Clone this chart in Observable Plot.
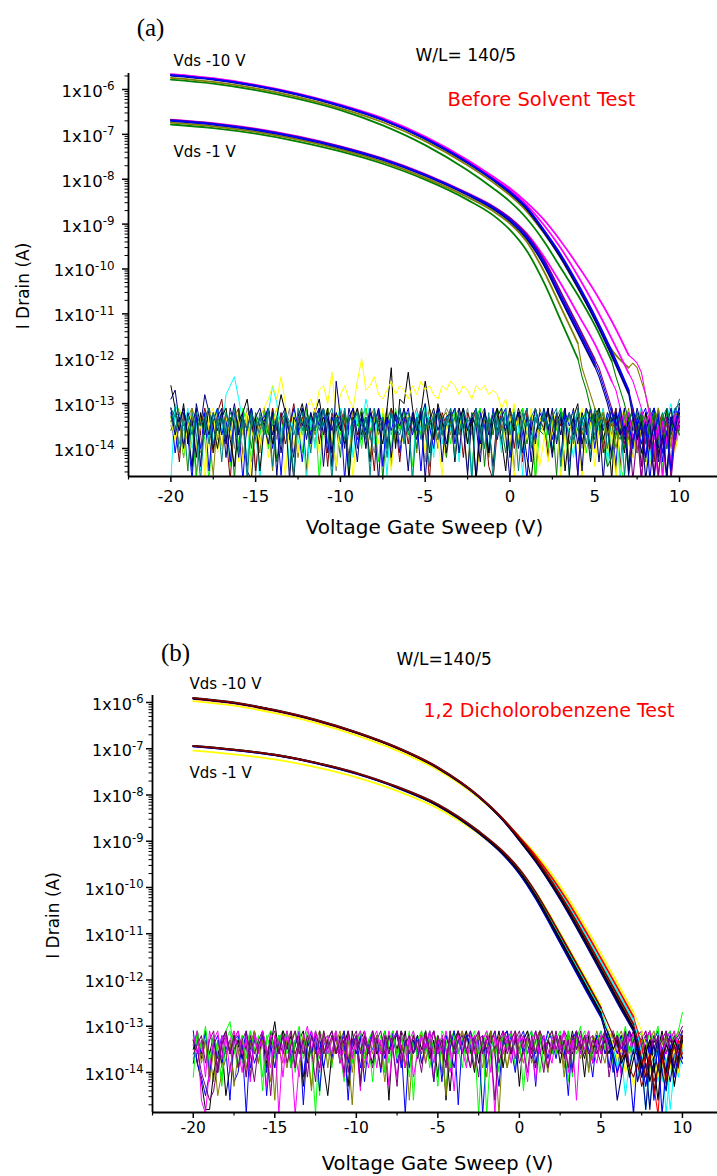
<!DOCTYPE html>
<html><head><meta charset="utf-8">
<script src="https://cdn.jsdelivr.net/npm/d3@7"></script>
<script src="https://cdn.jsdelivr.net/npm/@observablehq/plot@0.6"></script>
<style>
body{margin:0;background:#fff;overflow:hidden;}
#chart{width:717px;height:1176px;}
#chart svg{display:block;}
</style></head><body><div id="chart"></div>
<script>
// ---------- shared axis data ----------
const xMajorTicks = [-20,-15,-10,-5,0,5,10];
const xMinorTicks = [-22.5,-17.5,-12.5,-7.5,-2.5,2.5,7.5];
const yTickExponents = [-14,-13,-12,-11,-10,-9,-8,-7,-6];
const minorMultipliers = [2,3,4,5,6,7,8,9];
// gate voltage grid for the smooth part of the transfer curves (V)
const vGrid = [-20,-17.5,-15,-12.5,-10,-7.5,-5,-2.5,-1,0,1,2,3,4,5,6,7,8];
// noise / tail sampling: start -20 V, step 0.25 V ; values in tenths of a decade (132 -> 1e-13.2 A)
const noiseStartV = -20, noiseStepV = 0.25;

// ---------- panel (a): log10(I) on vGrid ----------
const a10_magenta1 = [-5.66,-5.75,-5.895,-6.09,-6.34,-6.64,-7.05,-7.57,-7.94,-8.2,-8.52,-8.9,-9.38,-9.92,-10.5,-11.16,-11.92];
const a10_magenta2 = [-5.67,-5.76,-5.905,-6.1,-6.35,-6.66,-7.07,-7.6,-7.97,-8.24,-8.58,-9.02,-9.54,-10.15,-10.82,-11.55,-12.32];
const a10_blue = [-5.68,-5.77,-5.915,-6.11,-6.36,-6.67,-7.09,-7.62,-8.0,-8.28,-8.63,-9.13,-9.68,-10.33,-11.04,-11.83,-12.7];
const a10_navy = [-5.69,-5.78,-5.925,-6.12,-6.37,-6.68,-7.1,-7.64,-8.02,-8.31,-8.67,-9.18,-9.75,-10.41,-11.13,-11.93,-12.78];
const a10_purple = [-5.68,-5.77,-5.915,-6.11,-6.36,-6.67,-7.09,-7.62,-8.0,-8.28,-8.64,-9.15,-9.71,-10.37,-11.08,-11.87,-12.72];
const a10_olive = [-5.74,-5.83,-5.975,-6.17,-6.42,-6.73,-7.15,-7.69,-8.07,-8.36,-8.72,-9.2,-9.76,-10.42,-11.1,-11.8,-12.2];
const a10_green = [-5.78,-5.87,-6.015,-6.21,-6.46,-6.8,-7.24,-7.8,-8.2,-8.5,-8.88,-9.38,-9.98,-10.58,-11.25,-12.05];
const a1_magenta = [-6.67,-6.75,-6.875,-7.047,-7.266,-7.537,-7.885,-8.31,-8.6,-8.86,-9.21,-9.72,-10.33,-11.0,-11.67,-12.5];
const a1_blue = [-6.69,-6.77,-6.894,-7.067,-7.286,-7.557,-7.905,-8.33,-8.63,-8.9,-9.28,-9.85,-10.6,-11.34,-12.09];
const a1_navy = [-6.7,-6.78,-6.905,-7.08,-7.3,-7.57,-7.92,-8.35,-8.66,-8.94,-9.33,-9.91,-10.67,-11.42,-12.17];
const a1_purple = [-6.68,-6.76,-6.885,-7.057,-7.276,-7.547,-7.895,-8.32,-8.61,-8.87,-9.24,-9.79,-10.52,-11.26,-12.01];
const a1_olive = [-6.74,-6.82,-6.945,-7.12,-7.34,-7.615,-7.97,-8.4,-8.71,-8.99,-9.4,-10.05,-10.85,-11.65];
const a1_green = [-6.78,-6.86,-6.985,-7.16,-7.38,-7.655,-8.01,-8.46,-8.8,-9.13,-9.6,-10.3,-11.15,-12.0];
// tails (continue after last grid point, 0.25 V steps, tenths of decade)
const a10_magenta1_tail = [120,121,123,128,133,138,135,147,137,146,136,133];
const a10_magenta2_tail = [125,128,131,135,132,139,147,134,138,143,132,136];
const a10_blue_tail = [131,135,139,134,147,137,133,141,136,145,134,131];
const a10_navy_tail = [133,138,134,147,139,135,142,137,146,133,136,130];
const a10_purple_tail = [132,136,147,135,140,134,146,138,133,147,137,134];
const a10_olive_tail = [121,122,125,128,132,135,131,138,134,140,133,131];
const a10_green_tail = [124,127,130,134,131,137,133,139,135,132,138,134,140,136,133,137];
const a1_magenta_tail = [127,131,135,132,138,134,147,136,133,140,135,146,137,134,139,133];
const a1_blue_tail = [123,126,129,132,135,131,137,134,140,133,136,142,135,131,138,134,147,133,136,134];
const a1_navy_tail = [124,127,130,134,132,137,135,146,138,134,141,136,133,147,137,135,140,134,138,132];
const a1_purple_tail = [122,125,128,131,136,133,139,135,147,137,133,142,138,146,135,139,134,137,133,135];
const a1_olive_tail = [122,125,128,131,134,132,137,134,140,135,132,138,134,141,136,133,139,135,142,137,134,138,135,132];
const a1_green_tail = [124,127,131,135,133,139,144,142,137,133,140,136,134,138,132,137,135,141,136,133,139,134,137,135];

// panel (a) noise floor sweeps (-20..10 V)
const nA_yellow1 = [134,138,133,141,135,132,139,134,145,133,131,
 136,140,133,137,131,134,143,132,136,139,133,
 131,129,126,129,124,130,137,132,141,134,131,
 129,132,127,126,130,123,133,128,126,129,131,
 125,120,127,126,124,128,129,127,125,128,126,
 127,129,126,128,125,127,126,128,129,126,127,
 125,126,128,126,127,129,126,127,126,128,127,
 128,131,129,134,130,138,132,136,131,142,133,
 137,143,134,132,147,136,133,140,135,131,139,
 134,144,136,132,141,135,147,134,131,139,142,
 133,137,145,135,132,140,134,146,136,133,131];
const nA_yellow2 = [133,139,131,136,145,134,140,133,147,137,132,
 141,134,131,138,133,143,135,132,147,134,139,
 133,142,135,131,137,146,134,140,132,135,147,
 138,133,141,134,131,137,144,133,139,135,147,
 132,137,134,142,133,139,131,136,145,134,140,
 137,132,147,135,133,141,134,131,138,146,135,
 133,142,135,132,137,134,147,139,133,136,143,
 134,131,139,135,147,133,141,137,132,136,144,
 138,133,137,134,145,140,135,131,137,147,134,
 132,141,135,133,143,137,134,147,133,139,135,
 134,139,133,144,135,147,132,137,134,141,133];
const nA_black = [126,131,136,130,139,133,142,132,137,131,135,
 140,133,131,138,144,134,132,129,136,133,145,
 135,131,139,133,128,132,137,147,133,130,135,
 139,132,129,135,131,141,133,136,132,147,134,
 131,137,133,143,132,135,139,131,122,140,129,
 130,123,131,136,132,125,131,138,130,134,141,
 132,143,134,131,139,133,147,136,132,141,134,
 131,138,145,133,136,131,135,142,147,137,133,
 136,131,141,134,132,145,136,133,130,139,134,
 143,133,131,138,134,147,132,136,141,133,138,
 134,144,132,137,133,141,136,131,145,134,133];
const nA_cyan = [147,130,133,136,131,140,134,145,132,138,133,
 131,137,128,126,124,129,134,143,131,136,147,
 135,132,126,130,137,133,144,131,139,134,147,
 133,140,131,136,132,145,134,131,138,133,142,
 132,136,129,133,139,131,135,146,132,137,131,
 138,133,147,132,136,130,134,142,131,139,133,
 136,131,143,133,135,147,131,137,132,140,134,
 133,141,132,136,131,135,146,133,139,132,136,
 131,135,140,133,145,132,137,142,131,135,132,
 139,133,136,131,144,134,132,147,136,133,140,
 133,131,137,143,132,139,135,133,130,136,132];
const nA_navy = [129,127,134,131,137,144,130,135,128,132,140,
 133,131,142,135,130,137,132,145,147,133,131,
 135,139,132,146,133,131,137,142,132,135,130,
 139,133,131,137,132,144,125,133,140,131,135,
 143,132,136,131,135,147,133,139,132,137,131,
 135,145,132,136,133,130,141,134,131,143,133,
 132,137,131,135,146,133,131,139,132,135,144,
 133,131,137,147,132,140,134,131,143,133,136,
 131,135,142,132,137,131,146,133,139,132,135,
 140,131,133,147,135,142,132,137,131,145,133,
 135,132,139,133,131,143,136,147,133,138,131];
const nA_wine = [131,135,143,132,138,133,146,136,131,135,141,
 132,129,137,147,133,131,142,135,132,145,136,
 133,140,131,136,132,139,135,130,137,133,146,
 135,131,139,133,144,132,136,131,135,142,133,
 138,133,131,136,145,132,135,140,131,134,143,
 133,139,132,136,131,135,147,133,138,132,135,
 131,137,133,142,132,135,131,139,133,144,147,
 136,132,135,131,140,133,143,132,137,131,135,
 133,142,136,132,135,131,139,135,146,132,137,
 131,135,132,141,133,137,131,144,133,135,140,
 132,137,133,131,143,135,132,138,133,140,135];
const nA_lime = [133,137,131,142,133,135,147,132,138,147,135,
 131,136,133,144,132,139,131,135,143,133,137,
 132,140,134,131,136,133,145,132,135,141,131,
 136,132,147,134,131,139,133,137,131,146,135,
 133,140,131,136,133,143,132,135,140,131,136,
 132,135,144,133,137,131,141,134,132,137,133,
 139,132,136,131,135,145,133,131,140,135,132,
 135,131,133,142,132,137,131,135,133,147,136,
 132,140,133,136,131,135,146,133,137,132,141,
 135,132,137,133,142,131,135,144,147,133,136,
 133,139,134,132,137,133,145,131,135,140,132];
const nA_teal = [131,133,132,135,133,137,132,135,133,139,132,
 135,133,137,132,134,140,133,136,132,135,133,
 137,132,135,133,139,132,134,137,133,132,136,
 133,136,132,135,133,131,136,132,138,133,134,
 132,135,133,138,132,134,133,140,132,135,137,
 133,132,136,133,138,132,135,133,132,137,133,
 135,133,137,132,134,133,132,138,133,135,132,
 137,133,135,132,133,139,132,135,133,131,136,
 132,135,133,138,132,135,133,132,136,133,139,
 133,137,132,135,133,132,136,138,133,132,135,
 132,136,133,138,132,135,133,131,135,132,129];
const nA_teal2 = [134,131,141,133,145,132,137,147,134,131,139,
 133,143,132,136,131,141,134,147,133,138,132,
 136,131,144,133,139,132,135,146,131,136,133,
 141,132,136,131,135,147,133,139,131,144,134,
 132,138,133,146,131,136,133,142,132,137,131,
 139,133,147,134,131,136,144,132,138,133,135,
 131,142,132,136,133,147,131,135,140,132,147,
 133,139,131,137,132,145,134,131,140,133,136,
 132,137,133,131,144,134,132,139,131,136,133,
 142,131,135,132,140,133,137,131,146,134,132,
 136,133,143,131,135,139,132,137,133,131,130];
const nA_blue = [132,141,134,131,137,147,133,140,132,145,134,
 131,137,133,143,132,135,147,133,131,139,134,
 133,131,140,134,146,132,136,131,135,143,133,
 137,132,135,131,141,133,136,132,147,134,131,
 140,133,137,132,135,131,144,133,136,132,141,
 134,131,137,133,145,132,135,140,131,137,133,
 132,139,134,131,136,133,147,132,135,141,131,
 136,133,131,142,134,132,137,147,133,139,132,
 134,131,138,133,142,132,135,131,146,133,137,
 131,140,133,136,132,135,144,131,137,133,132,
 141,133,131,137,135,132,143,133,136,131,134];
const nA_olive = [135,132,134,142,133,131,139,134,132,137,146,
 133,140,132,135,131,137,133,144,132,135,141,
 131,135,145,133,137,132,135,131,142,133,136,
 132,137,133,131,141,134,132,136,133,146,131,
 134,132,140,133,131,137,135,132,144,133,136,
 131,135,133,141,132,137,131,134,140,133,132,
 137,133,131,135,145,132,136,133,131,142,134,
 132,136,133,140,131,135,132,137,133,147,131,
 134,141,132,136,133,131,143,134,132,137,133,
 140,132,135,131,137,133,146,132,135,131,139,
 133,137,132,135,142,131,136,133,132,135,136];
const nA_green = [136,133,131,139,134,145,132,137,133,131,141,
 134,132,138,133,147,131,136,134,140,132,135,
 133,137,131,143,134,132,138,133,136,131,145,
 132,136,134,131,139,133,135,142,131,137,133,
 135,131,138,133,136,132,147,134,131,139,133,
 132,137,133,140,131,135,133,138,131,136,142,
 134,131,136,133,139,132,135,131,144,133,137,
 131,135,141,132,136,133,131,139,134,132,136,
 137,132,134,146,131,136,133,138,132,135,131,
 133,138,131,135,133,141,132,136,133,144,134,
 132,135,133,139,131,134,137,132,135,133,132];
const nA_gray = [133,135,139,132,136,131,134,141,133,136,132,
 138,131,135,133,140,132,137,131,134,146,133,
 131,136,133,138,132,135,131,141,133,137,132,
 134,139,132,136,131,135,145,133,132,136,134,
 131,135,133,137,141,132,135,131,137,133,139,
 136,132,134,131,136,143,133,137,132,134,131,
 133,138,132,135,131,137,133,141,132,135,133,
 131,134,137,133,145,132,135,131,138,133,136,
 135,132,136,133,131,137,132,135,133,140,132,
 132,136,133,139,132,134,131,136,133,135,142,
 134,131,136,133,137,132,135,133,139,132,134];
const nA_navy2 = [131,137,133,140,132,135,131,144,133,137,132,
 136,132,139,131,135,142,133,136,131,137,133,
 134,131,137,133,141,132,147,133,135,131,138,
 132,136,131,144,133,136,132,135,139,133,131,
 137,133,140,132,135,131,136,133,142,132,135,
 131,136,133,138,132,147,134,131,136,133,139,
 133,131,141,132,136,133,135,143,131,137,132,
 138,133,136,131,135,132,141,133,136,131,135,
 132,136,131,139,133,135,132,137,133,145,131,
 134,132,143,133,136,131,135,133,138,132,136,
 131,135,133,136,132,140,133,135,131,137,133];

// ---------- panel (b): log10(I) on vGrid ----------
const b10_yellow = [-5.97,-6.07,-6.23,-6.44,-6.71,-7.04,-7.46,-8.06,-8.53,-8.9,-9.28,-9.72,-10.24,-10.82,-11.43,-12.06,-12.7];
const b10_cyan = [-5.9,-6.0,-6.16,-6.37,-6.64,-6.97,-7.4,-8.02,-8.52,-8.92,-9.35,-9.84,-10.39,-10.99,-11.61,-12.25,-12.88];
const b10_red = [-5.92,-6.02,-6.18,-6.39,-6.66,-6.99,-7.42,-8.03,-8.52,-8.91,-9.32,-9.79,-10.32,-10.91,-11.53,-12.16,-12.8];
const b10_blue = [-5.91,-6.01,-6.17,-6.38,-6.65,-6.98,-7.41,-8.03,-8.54,-8.97,-9.43,-9.95,-10.53,-11.16,-11.8,-12.45,-13.08];
const b10_navy = [-5.91,-6.01,-6.17,-6.38,-6.65,-6.98,-7.42,-8.04,-8.55,-8.98,-9.44,-9.97,-10.55,-11.18,-11.83,-12.48,-13.1];
const b10_black = [-5.91,-6.01,-6.17,-6.38,-6.65,-6.98,-7.41,-8.03,-8.54,-8.96,-9.41,-9.93,-10.5,-11.12,-11.76,-12.4,-13.04];
const b10_darkred = [-5.9,-6.0,-6.16,-6.37,-6.64,-6.97,-7.4,-8.02,-8.52,-8.93,-9.37,-9.88,-10.44,-11.05,-11.68,-12.32,-12.96];
const b1_yellow = [-7.04,-7.12,-7.23,-7.4,-7.62,-7.91,-8.29,-8.84,-9.28,-9.64,-10.1,-10.68,-11.3,-11.92,-12.55];
const b1_cyan = [-6.94,-7.02,-7.13,-7.3,-7.52,-7.82,-8.2,-8.78,-9.23,-9.62,-10.13,-10.74,-11.38,-12.02,-12.66];
const b1_blue = [-6.95,-7.03,-7.14,-7.31,-7.54,-7.84,-8.23,-8.82,-9.29,-9.7,-10.24,-10.87,-11.52,-12.17,-12.8];
const b1_navy = [-6.95,-7.03,-7.14,-7.31,-7.54,-7.84,-8.23,-8.82,-9.28,-9.69,-10.22,-10.85,-11.5,-12.14,-12.78];
const b1_black = [-6.94,-7.02,-7.13,-7.3,-7.53,-7.83,-8.22,-8.8,-9.26,-9.66,-10.18,-10.8,-11.44,-12.08,-12.72];
const b1_darkred = [-6.94,-7.02,-7.13,-7.3,-7.52,-7.82,-8.2,-8.78,-9.22,-9.6,-10.1,-10.7,-11.33,-11.96,-12.6];
const b10_yellow_tail = [129,131,134,138,136,141,137,144,139,135,140,134];
const b10_cyan_tail = [132,136,140,147,138,135,142,137,148,139,134,136];
const b10_red_tail = [131,134,139,136,143,149,137,141,135,139,133,136];
const b10_blue_tail = [134,138,143,137,140,135,149,139,134,141,136,138];
const b10_navy_tail = [136,141,138,148,137,133,140,144,136,139,134,137];
const b10_black_tail = [135,139,134,142,138,146,136,140,135,143,137,133];
const b10_darkred_tail = [133,137,141,136,144,139,135,142,137,134,139,132];
const b1_yellow_tail = [129,131,134,137,135,140,137,143,139,136,141,138,144,140,136,139,142,137,134,136];
const b1_cyan_tail = [129,132,135,139,136,145,138,134,141,137,148,139,135,142,136,149,139,136,141,135];
const b1_blue_tail = [131,133,136,140,137,134,139,149,136,141,137,134,146,139,135,138,142,136,134,137];
const b1_navy_tail = [131,134,137,146,141,136,139,135,142,138,148,137,134,140,136,143,138,135,137,133];
const b1_black_tail = [130,132,135,133,138,136,141,137,134,139,136,133,138,135,137,134,136,133,135,132];
const b1_darkred_tail = [128,130,132,134,137,135,139,141,138,143,140,137,142,139,136,141,138,135,139,134];

// panel (b) noise floor sweeps
const nB_lime1 = [141,131,135,130,138,132,136,142,131,129,135,
 139,132,137,131,135,132,144,133,131,137,132,
 135,131,139,133,130,137,132,136,149,131,133,
 132,136,131,135,142,132,138,133,131,137,133,
 131,135,132,140,133,131,137,132,136,131,146,
 133,131,136,132,135,143,131,133,139,132,136,
 132,138,133,131,136,133,149,135,132,140,131,
 135,131,137,132,144,133,131,136,132,139,133,
 131,136,132,135,131,141,133,130,136,131,137,
 133,131,135,132,138,131,134,130,136,132,131,
 132,135,131,133,130,137,132,131,134,131,127];
const nB_blue1 = [131,138,141,145,140,134,132,138,135,133,142,
 140,134,149,133,138,135,132,145,134,139,133,
 136,132,138,134,131,141,133,136,132,144,134,
 133,137,132,136,133,146,134,132,139,133,136,
 135,132,140,133,136,131,138,134,149,133,136,
 132,138,134,132,136,133,142,132,135,139,133,
 136,132,134,139,133,149,135,132,136,143,133,
 131,135,140,132,136,133,131,138,134,132,137,
 133,137,132,135,145,133,131,136,132,135,141,
 132,135,131,139,133,136,132,135,131,133,137,
 134,132,137,133,131,140,134,132,136,133,131];
const nB_black1 = [133,138,142,148,148,140,136,134,145,139,135,
 133,137,134,141,132,136,133,138,134,129,136,
 131,133,139,134,132,143,133,136,131,135,139,
 145,136,132,138,134,131,137,133,142,132,135,
 138,132,136,133,146,132,135,131,139,133,136,
 132,135,131,137,133,141,132,135,144,133,131,
 136,132,135,140,131,136,133,132,135,131,139,
 133,136,132,143,133,131,135,139,132,136,133,
 135,132,138,133,136,131,135,133,141,132,136,
 132,136,133,131,135,132,140,133,131,136,133,
 136,133,131,139,134,132,136,133,135,138,132];
const nB_magenta1 = [134,131,146,149,139,133,131,137,132,140,133,
 131,136,133,142,132,136,131,135,139,132,149,
 134,131,136,149,138,133,130,135,131,137,133,
 132,136,131,135,141,132,137,133,131,135,139,
 133,131,136,132,143,133,131,135,139,132,141,
 136,132,135,131,138,133,136,131,135,144,132,
 135,139,132,136,131,135,133,140,132,136,131,
 133,131,137,132,135,142,133,131,136,132,135,
 138,132,135,131,136,133,146,132,135,131,138,
 133,136,132,135,131,141,133,136,132,135,131,
 136,133,131,135,139,132,136,133,131,135,132];
const nB_purple1 = [133,135,140,143,146,144,138,134,131,136,132,
 139,133,131,136,142,134,132,137,133,131,136,
 132,138,134,131,136,133,141,132,135,139,131,
 135,132,136,133,140,131,135,132,143,133,136,
 131,135,139,132,136,133,131,138,134,132,136,
 133,136,131,135,142,132,135,138,131,136,133,
 132,135,139,133,131,136,132,135,146,133,131,
 136,133,131,138,135,132,136,131,135,140,133,
 131,135,132,137,133,140,131,135,132,136,133,
 135,138,131,133,136,132,135,131,139,133,132,
 133,131,136,132,135,133,131,136,133,132,130];
const nB_olive1 = [134,132,138,133,142,135,145,140,137,133,143,
 136,132,139,134,131,138,133,136,142,132,135,
 138,133,131,136,141,132,135,144,133,131,136,
 132,138,134,131,136,133,140,132,135,138,133,
 136,132,135,142,133,131,136,132,139,134,132,
 135,131,138,133,136,132,135,145,131,136,133,
 131,136,133,139,132,135,141,131,136,132,135,
 139,133,131,135,138,132,136,133,131,135,140,
 133,136,132,139,131,135,133,137,132,140,134,
 131,135,138,132,136,133,131,135,139,132,136,
 132,137,133,131,136,134,132,138,133,131,134];
const nB_lime2 = [137,133,136,131,139,132,135,143,133,131,136,
 132,138,134,131,136,133,141,132,135,139,133,
 131,136,133,140,132,135,131,137,133,145,132,
 135,139,131,136,133,132,138,134,131,136,133,
 142,132,135,131,138,133,136,132,135,141,131,
 136,133,131,139,134,132,136,144,133,131,135,
 139,132,136,133,149,134,131,137,133,136,132,
 135,131,139,132,136,133,135,131,140,134,132,
 136,133,131,135,142,132,136,133,131,135,138,
 133,136,132,135,131,139,133,136,132,135,131,
 135,132,136,133,131,138,134,132,136,133,131];
const nB_magenta2 = [132,136,133,141,131,135,139,132,136,133,131,
 135,140,132,136,131,135,133,143,132,136,133,
 141,132,135,139,131,136,133,131,135,140,132,
 136,133,131,138,134,132,136,133,144,131,135,
 132,139,133,136,131,135,141,132,136,133,131,
 135,132,138,133,131,136,132,135,140,133,136,
 131,135,139,132,136,133,131,135,149,132,136,
 133,138,131,135,132,136,133,142,131,135,139,
 132,136,133,131,140,134,132,136,133,131,135,
 138,132,135,131,136,133,141,132,135,131,136,
 133,131,136,132,135,139,133,131,135,132,133];
const nB_purple2 = [136,134,132,138,133,131,140,134,132,136,133,
 131,135,141,132,136,133,131,135,145,133,136,
 132,135,131,139,133,136,132,135,142,131,136,
 133,131,136,135,132,140,133,131,136,132,135,
 139,133,131,136,132,135,143,131,133,136,132,
 135,140,132,136,131,135,133,139,132,135,131,
 136,133,131,135,141,132,136,133,131,138,134,
 132,136,133,131,135,140,132,136,131,133,139,
 135,131,136,133,139,132,135,131,136,133,132,
 136,133,131,141,135,132,136,133,131,135,132,
 131,136,133,135,132,139,131,135,132,136,131];
const nB_olive2 = [133,138,134,131,136,142,133,139,132,135,131,
 136,133,141,132,135,138,131,136,133,146,132,
 135,139,133,131,136,132,135,143,133,136,131,
 139,132,135,133,131,136,147,132,135,139,133,
 131,136,133,140,132,135,131,136,133,146,134,
 132,138,135,131,136,133,140,132,135,131,136,
 133,131,136,132,135,139,133,131,136,149,133,
 139,135,132,136,133,131,138,135,132,136,133,
 131,136,133,141,132,135,131,136,133,139,132,
 135,132,136,133,131,140,135,132,136,133,131,
 139,133,131,136,135,132,139,133,131,136,134];
const nB_blue2 = [138,133,136,131,141,133,137,132,135,146,133,
 132,136,131,139,133,135,131,140,133,136,132,
 135,131,137,133,132,147,134,131,136,133,139,
 133,136,132,135,131,138,133,136,132,142,134,
 131,135,133,137,132,135,131,139,133,136,132,
 137,132,135,131,142,133,136,132,135,131,147,
 133,136,131,135,133,132,139,134,131,136,133,
 135,132,137,133,131,136,133,143,132,135,131,
 133,136,132,135,133,139,131,135,133,132,138,
 134,131,136,133,140,132,136,131,135,133,132,
 136,133,131,137,132,135,133,131,138,133,134];
const nB_black2 = [135,131,137,133,136,132,140,133,131,136,132,
 134,137,132,135,131,136,133,139,131,135,133,
 131,135,132,136,133,131,138,132,135,133,136,
 133,131,136,132,135,143,131,136,133,131,135,
 132,136,134,131,135,133,132,136,131,139,133,
 136,132,135,133,131,136,132,146,133,135,131,
 134,131,136,132,138,133,135,131,136,133,132,
 131,136,133,135,132,134,137,133,131,136,133,
 136,132,135,131,133,136,132,134,137,132,135,
 132,135,133,136,131,134,132,136,133,131,135,
 134,132,136,133,135,131,136,132,134,136,133];

// ---------- colours (Origin palette) ----------
const C = {magenta:"#ff00ff", blue:"#0000ff", navy:"#000080", purple:"#800080", olive:"#808000",
  green:"#008000", lime:"#00ff00", yellow:"#ffff00", cyan:"#00ffff", black:"#000000",
  wine:"#800000", teal:"#008080", red:"#ff0000", gray:"#808080"};

// ---------- helpers ----------
const smoothPts = logs => logs.map((l, i) => ({x: vGrid[i], y: Math.pow(10, l)}));
const noisePts = arr => arr.map((t, i) => ({x: noiseStartV + noiseStepV * i, y: Math.pow(10, -t / 10)}));
const tailPts = (startV, arr) => arr.map((t, i) => ({x: startV + noiseStepV * (i + 1), y: Math.pow(10, -t / 10)}));

function drawPanel(cfg) {
  const {xDomain, yDomain, height, mt, mb, ml, noise, curves, texts, fsY, fsX, padY, padX, yTitle, xTitle} = cfg;
  const yMajor = yTickExponents.map(e => Math.pow(10, e));
  const yMinor = [];
  for (let e = -15; e <= -6; e++) for (const k of minorMultipliers) {
    const v = k * Math.pow(10, e);
    if (v > yDomain[0] && v < yDomain[1]) yMinor.push(v);
  }
  const marks = [];
  for (const n of noise) marks.push(Plot.line(noisePts(n.v), {x: "x", y: "y", stroke: n.c, strokeWidth: 1, clip: true}));
  for (const c of curves) {
    const sm = smoothPts(c.v);
    const last = sm[sm.length - 1];
    marks.push(Plot.line([last, ...tailPts(last.x, c.t)], {x: "x", y: "y", stroke: c.c, strokeWidth: 1.1, clip: true}));
  }
  for (const c of curves) {
    marks.push(Plot.line(smoothPts(c.v), {x: "x", y: "y", stroke: c.c, strokeWidth: 1.8, curve: "monotone-x", clip: true}));
  }
  marks.push(
    Plot.ruleX([xDomain[0]], {stroke: "black", strokeWidth: 1.8}),
    Plot.ruleY([yDomain[0]], {stroke: "black", strokeWidth: 1.8}),
    Plot.axisX(xMajorTicks, {tickSize: 6, tickPadding: padX, tickFormat: d => String(d), fontSize: fsX, strokeWidth: 1.5, label: null, fill: "black"}),
    Plot.axisX(xMinorTicks.filter(v => v >= xDomain[0] && v <= xDomain[1]), {tickSize: 3.5, tickFormat: () => "", strokeWidth: 1.2, label: null}),
    Plot.axisY(yMajor, {tickSize: 6, tickPadding: padY, tickFormat: d => "1x10^" + Math.round(Math.log10(d)), fontSize: fsY, strokeWidth: 1.5, label: null, fill: "black"}),
    Plot.axisY(yMinor, {tickSize: 3.5, tickFormat: () => "", strokeWidth: 1, label: null}),
    Plot.text([xTitle.t], {frameAnchor: "bottom", text: d => d, dx: xTitle.dx, dy: xTitle.dy, fontSize: xTitle.size, lineAnchor: "bottom", textAnchor: "middle", fill: "black"}),
    Plot.text([yTitle.t], {frameAnchor: "left", text: d => d, rotate: -90, dx: yTitle.dx, dy: yTitle.dy, fontSize: yTitle.size, lineAnchor: "bottom", textAnchor: "middle", fill: "black"})
  );
  for (const t of texts) {
    marks.push(Plot.text([t.t], {frameAnchor: "top-left", text: d => d, dx: t.dx, dy: t.dy, fontSize: t.size,
      fill: t.color || "black", fontFamily: t.family || "DejaVu Sans", textAnchor: t.anchor || "start", lineAnchor: "bottom"}));
  }
  const svg = Plot.plot({
    width: 717, height, marginTop: mt, marginBottom: mb, marginLeft: ml, marginRight: 0,
    x: {domain: xDomain},
    y: {type: "log", domain: yDomain},
    style: {fontFamily: "DejaVu Sans", background: "white", overflow: "visible", color: "black"},
    marks
  });
  // superscript exponents on the y tick labels
  d3.select(svg).selectAll("text").each(function () {
    const s = this.textContent;
    if (!s.includes("^")) return;
    const [base, exp] = s.split("^");
    const sel = d3.select(this);
    sel.text(null).attr("y", "0.45em");
    sel.append("tspan").text(base);
    sel.append("tspan").attr("dy", "-0.55em").attr("font-size", (fsY * 0.72) + "px").text(exp);
  });
  return svg;
}

const svgA = drawPanel({
  xDomain: [-22.5, 12.24], yDomain: [Math.pow(10, -14.624), Math.pow(10, -5.644)],
  height: 585, mt: 73, mb: 109, ml: 128, fsY: 16.5, fsX: 16.5, padY: 8, padX: 8,
  noise: [
    {v: nA_gray, c: C.gray}, {v: nA_olive, c: C.olive}, {v: nA_green, c: C.green}, {v: nA_wine, c: C.wine},
    {v: nA_lime, c: C.lime}, {v: nA_yellow2, c: C.yellow}, {v: nA_cyan, c: C.cyan}, {v: nA_blue, c: C.blue},
    {v: nA_black, c: C.black}, {v: nA_yellow1, c: C.yellow}, {v: nA_navy2, c: C.navy}, {v: nA_navy, c: C.navy},
    {v: nA_teal2, c: C.teal}, {v: nA_teal, c: C.teal}
  ],
  curves: [
    {v: a1_green, t: a1_green_tail, c: C.green}, {v: a1_olive, t: a1_olive_tail, c: C.olive},
    {v: a1_magenta, t: a1_magenta_tail, c: C.magenta}, {v: a1_purple, t: a1_purple_tail, c: C.purple},
    {v: a1_navy, t: a1_navy_tail, c: C.navy}, {v: a1_blue, t: a1_blue_tail, c: C.blue},
    {v: a10_green, t: a10_green_tail, c: C.green}, {v: a10_olive, t: a10_olive_tail, c: C.olive},
    {v: a10_magenta1, t: a10_magenta1_tail, c: C.magenta}, {v: a10_magenta2, t: a10_magenta2_tail, c: C.magenta},
    {v: a10_purple, t: a10_purple_tail, c: C.purple}, {v: a10_navy, t: a10_navy_tail, c: C.navy},
    {v: a10_blue, t: a10_blue_tail, c: C.blue}
  ],
  texts: [
    {t: "(a)", dx: 22, dy: -38, size: 25, family: "Liberation Serif", anchor: "middle"},
    {t: "Vds -10 V", dx: 45, dy: -8, size: 15},
    {t: "Vds -1 V", dx: 45, dy: 83, size: 15},
    {t: "W/L= 140/5", dx: 287, dy: -13, size: 17},
    {t: "Before Solvent Test", dx: 319, dy: 32, size: 19.5, color: "#ff0000"}
  ],
  xTitle: {t: "Voltage Gate Sweep (V)", dx: 1.5, dy: 57, size: 20},
  yTitle: {t: "I Drain (A)", dx: -100, dy: 11, size: 17}
});

const svgB = drawPanel({
  xDomain: [-22.5, 12.15], yDomain: [Math.pow(10, -14.865), Math.pow(10, -5.849)],
  height: 591, mt: 110, mb: 64, ml: 152, fsY: 16, fsX: 15.5, padY: 3, padX: 3,
  noise: [
    {v: nB_olive2, c: C.olive}, {v: nB_black2, c: C.black}, {v: nB_lime2, c: C.lime}, {v: nB_blue2, c: C.blue},
    {v: nB_black1, c: C.black}, {v: nB_blue1, c: C.blue}, {v: nB_magenta2, c: C.magenta}, {v: nB_olive1, c: C.olive},
    {v: nB_lime1, c: C.lime}, {v: nB_purple2, c: C.purple}, {v: nB_magenta1, c: C.magenta}, {v: nB_purple1, c: C.purple}
  ],
  curves: [
    {v: b1_yellow, t: b1_yellow_tail, c: C.yellow}, {v: b1_cyan, t: b1_cyan_tail, c: C.cyan},
    {v: b1_blue, t: b1_blue_tail, c: C.blue}, {v: b1_navy, t: b1_navy_tail, c: C.navy},
    {v: b1_black, t: b1_black_tail, c: C.black}, {v: b1_darkred, t: b1_darkred_tail, c: C.wine},
    {v: b10_yellow, t: b10_yellow_tail, c: C.yellow}, {v: b10_cyan, t: b10_cyan_tail, c: C.cyan},
    {v: b10_red, t: b10_red_tail, c: C.red}, {v: b10_blue, t: b10_blue_tail, c: C.blue},
    {v: b10_navy, t: b10_navy_tail, c: C.navy}, {v: b10_black, t: b10_black_tail, c: C.black},
    {v: b10_darkred, t: b10_darkred_tail, c: C.wine}
  ],
  texts: [
    {t: "(b)", dx: 23, dy: -35, size: 25, family: "Liberation Serif", anchor: "middle"},
    {t: "Vds -10 V", dx: 37, dy: -7, size: 15},
    {t: "Vds -1 V", dx: 37, dy: 82, size: 15},
    {t: "W/L=140/5", dx: 244, dy: -31, size: 17},
    {t: "1,2 Dicholorobenzene Test", dx: 271, dy: 21, size: 19, color: "#ff0000"}
  ],
  xTitle: {t: "Voltage Gate Sweep (V)", dx: 2.5, dy: 57, size: 19.5},
  yTitle: {t: "I Drain (A)", dx: -94, dy: 11.5, size: 17}
});

document.getElementById("chart").append(svgA, svgB);
</script>
</body></html>
